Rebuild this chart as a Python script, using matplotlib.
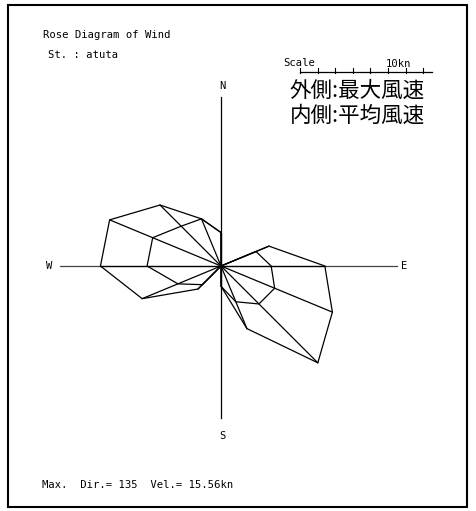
import numpy as np
import matplotlib
matplotlib.use("Agg")
import matplotlib.pyplot as plt
from matplotlib.patches import Rectangle

# 16方位 (N から時計回り)
dirs = ["N", "NNE", "NE", "ENE", "E", "ESE", "SE", "SSE",
        "S", "SSW", "SW", "WSW", "W", "WNW", "NW", "NNW"]
# 最大風速 (kn)
max_speed = [3.8, 0.0, 0.0, 5.9, 11.8, 13.7, 15.56, 7.7,
             2.3, 0.0, 3.7, 9.7, 13.7, 13.7, 9.8, 5.8]
# 平均風速 (kn)
avg_speed = [3.8, 0.0, 0.0, 4.3, 5.7, 6.6, 6.1, 4.4,
             2.3, 0.0, 3.0, 5.3, 8.4, 8.4, 6.4, 5.8]
scale_ticks = [0, 2, 4, 6, 8, 10, 12, 14]
scale_len = 15

W, H = 476, 511
CX, CY = 221, 266      # 中心 (px)
PPK = 8.8              # px / kn

def fx(px):
    return px / W

def fy(py):
    return 1 - py / H

fig = plt.figure(figsize=(W / 100, H / 100), dpi=100)
ax = fig.add_axes([0, 0, 1, 1])
ax.set_xlim(-CX / PPK, (W - CX) / PPK)
ax.set_ylim(-(H - CY) / PPK, CY / PPK)
ax.axis("off")

# 枠
fig.patches.append(Rectangle((fx(8), fy(507)), fx(467) - fx(8), fy(5) - fy(507),
                             transform=fig.transFigure, fill=False,
                             edgecolor="black", lw=1.5))

# 方位軸
ax.plot([(60 - CX) / PPK, (397 - CX) / PPK], [0, 0], color="#444444", lw=0.9)
ax.plot([0, 0], [(CY - 418) / PPK, (CY - 97) / PPK], color="black", lw=0.9)

theta = np.deg2rad(np.arange(16) * 22.5)
mx = np.array(max_speed) * np.sin(theta)
my = np.array(max_speed) * np.cos(theta)
ax_ = np.array(avg_speed) * np.sin(theta)
ay_ = np.array(avg_speed) * np.cos(theta)

# 放射線
for x, y in zip(mx, my):
    ax.plot([0, x], [0, y], color="black", lw=0.9)

ax.plot(np.append(mx, mx[0]), np.append(my, my[0]), color="black", lw=0.9)
ax.plot(np.append(ax_, ax_[0]), np.append(ay_, ay_[0]), color="black", lw=0.9)

# スケール
sx0 = (300 - CX) / PPK
sy0 = (CY - 72) / PPK
ax.plot([sx0, sx0 + scale_len], [sy0, sy0], color="black", lw=0.9)
for t in scale_ticks:
    ax.plot([sx0 + t, sx0 + t], [sy0 - 0.1, sy0 + 0.4], color="black", lw=0.8)

mono = "DejaVu Sans Mono"
fs = 7.6
fig.text(fx(43), fy(35), "Rose Diagram of Wind", family=mono, fontsize=fs, va="center")
fig.text(fx(48), fy(55), "St. : atuta", family=mono, fontsize=fs, va="center")
fig.text(fx(283), fy(63), "Scale", family=mono, fontsize=fs, va="center")
fig.text(fx(386), fy(64), "10kn", family=mono, fontsize=fs, va="center")
fig.text(fx(42), fy(485), "Max.  Dir.= 135  Vel.= 15.56kn", family=mono, fontsize=fs, va="center")

fig.text(fx(222), fy(86), "N", family=mono, fontsize=fs, ha="center", va="center")
fig.text(fx(222), fy(436), "S", family=mono, fontsize=fs, ha="center", va="center")
fig.text(fx(49), fy(266), "W", family=mono, fontsize=fs, ha="center", va="center")
fig.text(fx(404), fy(266), "E", family=mono, fontsize=fs, ha="center", va="center")

jp = ["Noto Sans CJK JP", "DejaVu Sans"]
fig.text(fx(357), fy(91), "外側:最大風速", family=jp, fontsize=15.5, ha="center", va="center")
fig.text(fx(357), fy(116), "内側:平均風速", family=jp, fontsize=15.5, ha="center", va="center")

fig.savefig("out.png", dpi=100)
